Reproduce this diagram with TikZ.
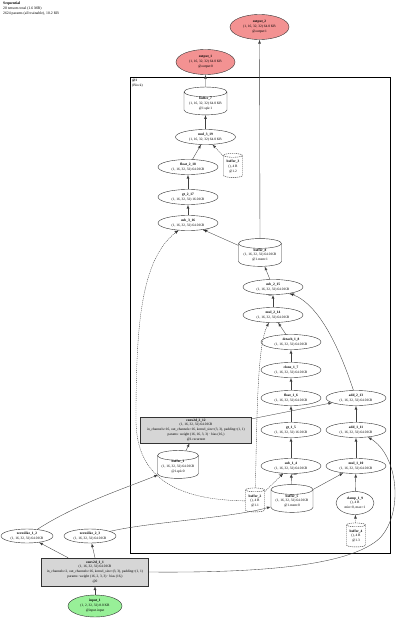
\documentclass[tikz,border=0pt]{standalone}
\usepackage{fontspec}
\setmainfont{Liberation Serif}
\usepackage{tikz}
\usetikzlibrary{shapes.geometric, arrows, positioning}

\definecolor{outred}{HTML}{F39292}
\definecolor{ingreen}{HTML}{98F098}
\definecolor{opgray}{HTML}{D6D6D6}

\begin{document}
\begin{tikzpicture}[x=1pt, y=-1pt, >=latex, on grid,
    every node/.style={font=\fontsize{3.5}{4.9}\selectfont, align=center, inner sep=0pt},
    op/.style={draw=black!80, ellipse, fill=white, line width=0.4pt, minimum width=60pt, minimum height=15pt},
    buf/.style={draw=black!80, cylinder, shape border rotate=90, aspect=0.3, fill=white, line width=0.4pt, minimum width=43pt, minimum height=23pt},
    cbuf/.style={buf, dash pattern=on 1.2pt off 0.8pt, minimum width=19pt, minimum height=24pt},
    layer/.style={draw=black!80, rectangle, fill=opgray, line width=0.4pt, minimum width=111pt, minimum height=26pt},
    io/.style={draw=black!80, ellipse, line width=0.4pt, minimum width=59pt, minimum height=25pt},
    edge/.style={->, draw=black!75, line width=0.35pt},
    cedge/.style={edge, dash pattern=on 1.2pt off 0.8pt},
    elabel/.style={font=\fontsize{2.6}{3}\selectfont}
]
    \fill [white] (0,0) rectangle (400,623);
    \useasboundingbox (0,0) rectangle (400,623);

    \node [anchor=north west, align=left, font=\fontsize{3.8}{4.9}\selectfont] (title) at (3,2) {\textbf{Sequential}\\20 tensors total (1.6 MB)\\2624 params (all trainable), 10.2 KB};

    % module @1
    \node [draw, line width=1.3pt, minimum width=260pt, minimum height=476pt, anchor=north west] (block) at (130,77) {};
    \node [anchor=north west, align=left] (blocklabel) at (132,79) {\textbf{@1}\\(Block)};

    % outputs
    \node [io, fill=outred] (output_2) at (259.5,27) {\textbf{output\_2}\\(1, 16, 32, 32) 64.0 KB\\@output:1};
    \node [io, fill=outred] (output_1) at (205.5,62) {\textbf{output\_1}\\(1, 16, 32, 32) 64.0 KB\\@output:0};

    % spike branch
    \node [buf] (buffer_7) at (205.5,103.5) {\textbf{buffer\_7}\\(1, 16, 32, 32) 64.0 KB\\@1.spk:1};
    \node [op, below=33.5pt of buffer_7] (mul_3_19) {\textbf{mul\_3\_19}\\(1, 16, 32, 32) 64.0 KB};
    \node [op] (float_2_18) at (188,167) {\textbf{float\_2\_18}\\(1, 16, 32, 32) 64.0 KB};
    \node [cbuf] (buffer_3) at (233,166.5) {\textbf{buffer\_3}\\(), 4 B\\@1.2};
    \node [op, below=30pt of float_2_18] (gt_2_17) {\textbf{gt\_2\_17}\\(1, 16, 32, 32) 16.0 KB};
    \node [op, below=26pt of gt_2_17] (sub_3_16) {\textbf{sub\_3\_16}\\(1, 16, 32, 32) 64.0 KB};

    % membrane branch
    \node [buf] (buffer_8) at (260,255) {\textbf{buffer\_8}\\(1, 16, 32, 32) 64.0 KB\\@1.mem:1};
    \node [op] (sub_2_15) at (273,287) {\textbf{sub\_2\_15}\\(1, 16, 32, 32) 64.0 KB};
    \node [op, below=28pt of sub_2_15] (mul_2_14) {\textbf{mul\_2\_14}\\(1, 16, 32, 32) 64.0 KB};
    \node [op] (detach_1_8) at (291,342) {\textbf{detach\_1\_8}\\(1, 16, 32, 32) 64.0 KB};
    \node [op, below=28pt of detach_1_8] (clone_1_7) {\textbf{clone\_1\_7}\\(1, 16, 32, 32) 64.0 KB};
    \node [op, below=28pt of clone_1_7] (float_1_6) {\textbf{float\_1\_6}\\(1, 16, 32, 32) 64.0 KB};
    \node [op, below=32pt of float_1_6] (gt_1_5) {\textbf{gt\_1\_5}\\(1, 16, 32, 32) 16.0 KB};
    \node [op, below=36pt of gt_1_5] (sub_1_4) {\textbf{sub\_1\_4}\\(1, 16, 32, 32) 64.0 KB};

    \node [op, right=65pt of float_1_6] (add_2_13) {\textbf{add\_2\_13}\\(1, 16, 32, 32) 64.0 KB};
    \node [op, below=32pt of add_2_13] (add_1_11) {\textbf{add\_1\_11}\\(1, 16, 32, 32) 64.0 KB};
    \node [op, below=36pt of add_1_11] (mul_1_10) {\textbf{mul\_1\_10}\\(1, 16, 32, 32) 64.0 KB};
    \node [op, minimum width=38pt, minimum height=23pt] (clamp_1_9) at (355,503) {\textbf{clamp\_1\_9}\\(), 4 B\\min=0, max=1};
    \node [cbuf] (buffer_4) at (356,536) {\textbf{buffer\_4}\\(), 4 B\\@1.3};

    \node [cbuf] (buffer_2) at (255,501) {\textbf{buffer\_2}\\(), 4 B\\@1.1};
    \node [buf, minimum width=42pt] (buffer_5) at (292,501) {\textbf{buffer\_5}\\(1, 16, 32, 32) 64.0 KB\\@1.mem:0};

    \node [layer] (conv2d_2_12) at (196,430) {\textbf{conv2d\_2\_12}\\(1, 16, 32, 32) 64.0 KB\\in\_channels=16, out\_channels=16, kernel\_size=(3, 3), padding=(1, 1)\\params: weight (16, 16, 3, 3) · bias (16,)\\@1.recurrent};
    \node [buf, minimum width=41pt] (buffer_1) at (178,467) {\textbf{buffer\_1}\\(1, 16, 32, 32) 64.0 KB\\@1.spk:0};

    % outside the module
    \node [op, minimum width=52pt, minimum height=14pt] (zeroslike_1_2) at (27,536) {\textbf{zeroslike\_1\_2}\\(1, 16, 32, 32) 64.0 KB};
    \node [op, minimum width=52pt, minimum height=14pt] (zeroslike_2_3) at (90,536) {\textbf{zeroslike\_2\_3}\\(1, 16, 32, 32) 64.0 KB};
    \node [layer, minimum width=107pt, minimum height=28pt] (conv2d_1_1) at (95,572) {\textbf{conv2d\_1\_1}\\(1, 16, 32, 32) 64.0 KB\\in\_channels=2, out\_channels=16, kernel\_size=(3, 3), padding=(1, 1)\\params: weight (16, 2, 3, 3) · bias (16,)\\@0};
    \node [io, fill=ingreen, minimum width=54pt, minimum height=22pt] (input_1) at (95,606) {\textbf{input\_1}\\(1, 2, 32, 32) 8.0 KB\\@input.input};

    % edges
    \draw [edge] (input_1) -- (conv2d_1_1);
    \draw [edge] (conv2d_1_1) -- (zeroslike_1_2);
    \draw [edge] (conv2d_1_1.north) -- (zeroslike_2_3);
    \draw [edge] (conv2d_1_1.east) .. controls (260,573) and (350,566) .. (380,538) .. controls (404,512) and (398,455) .. (add_1_11);
    \draw [edge] (zeroslike_1_2) .. controls (75,505) and (120,490) .. (buffer_1);
    \draw [edge] (zeroslike_2_3) .. controls (150,522) and (230,518) .. (buffer_5);
    \draw [edge] (buffer_1) -- (conv2d_2_12);
    \draw [edge] (conv2d_2_12) -- (add_2_13);
    \draw [edge] (buffer_5) -- (sub_1_4) node [elabel, pos=1, anchor=north west, xshift=0.5pt] {other};
    \draw [cedge] (buffer_2) -- (sub_1_4) node [elabel, pos=1, anchor=north east, xshift=-0.5pt] {self};
    \draw [edge] (buffer_5) -- (mul_1_10);
    \draw [cedge] (buffer_4) -- (clamp_1_9);
    \draw [edge] (clamp_1_9) -- (mul_1_10);
    \draw [edge] (mul_1_10) -- (add_1_11);
    \draw [edge] (add_1_11) -- (add_2_13);
    \draw [edge] (add_2_13) .. controls (340,350) and (320,305) .. (sub_2_15) node [elabel, pos=1, anchor=north west] {other};
    \draw [edge] (sub_1_4) -- (gt_1_5);
    \draw [edge] (gt_1_5) -- (float_1_6);
    \draw [edge] (float_1_6) -- (clone_1_7);
    \draw [edge] (clone_1_7) -- (detach_1_8);
    \draw [edge] (detach_1_8) -- (mul_2_14);
    \draw [cedge] (buffer_2) .. controls (257,420) and (257,345) .. (mul_2_14);
    \draw [edge] (mul_2_14) -- (sub_2_15) node [elabel, pos=1, anchor=north east, xshift=-0.5pt] {self};
    \draw [edge] (sub_2_15) -- (buffer_8);
    \draw [edge] (buffer_8) -- (output_2);
    \draw [edge] (buffer_8) -- (sub_3_16) node [elabel, pos=1, anchor=north west] {other};
    \draw [cedge] (buffer_2) .. controls (180,500) and (136,480) .. (136,420) .. controls (136,330) and (140,260) .. (sub_3_16) node [elabel, pos=1, anchor=north east] {self};
    \draw [edge] (sub_3_16) -- (gt_2_17);
    \draw [edge] (gt_2_17) -- (float_2_18);
    \draw [edge] (float_2_18) -- (mul_3_19);
    \draw [cedge] (buffer_3) -- (mul_3_19);
    \draw [edge] (mul_3_19) -- (buffer_7);
    \draw [edge] (buffer_7) -- (output_1);
\end{tikzpicture}
\end{document}
